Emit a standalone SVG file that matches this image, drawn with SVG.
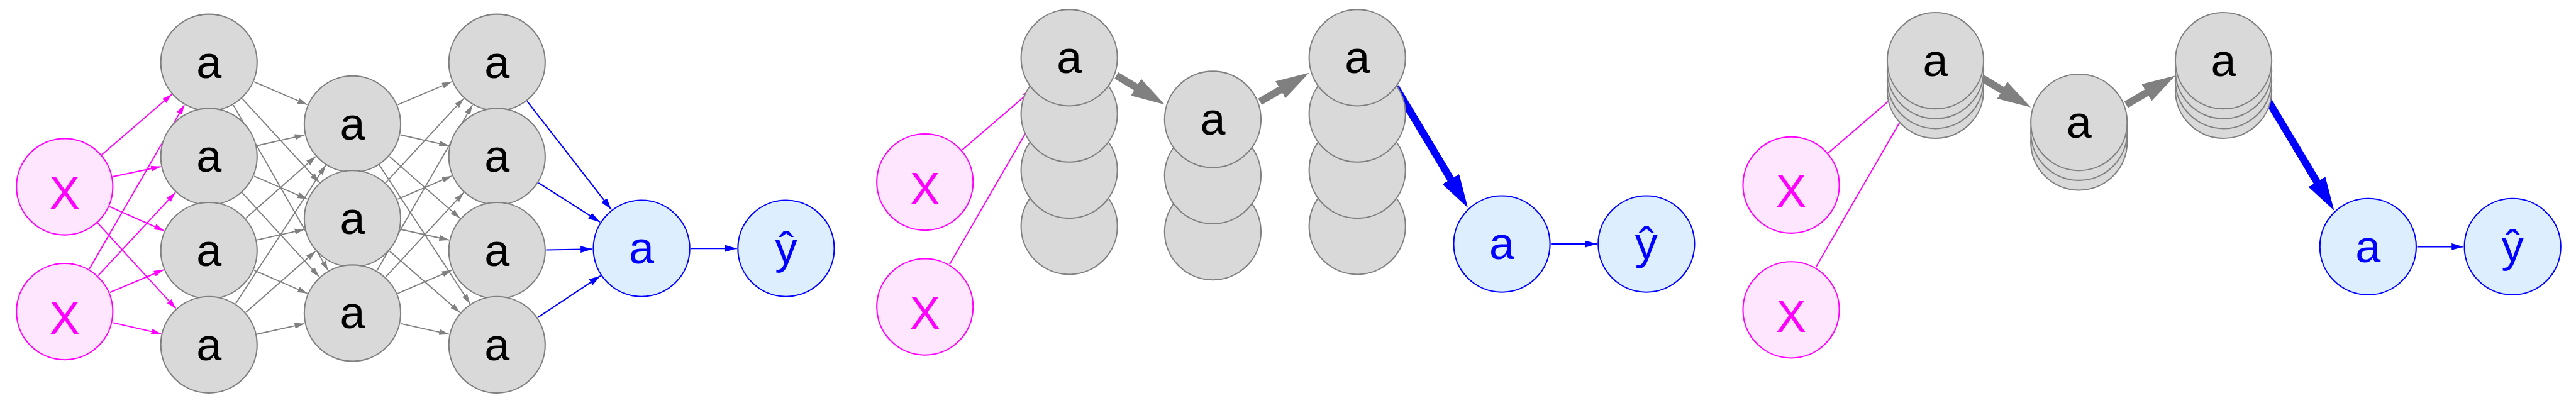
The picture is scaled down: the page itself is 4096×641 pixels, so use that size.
<svg xmlns="http://www.w3.org/2000/svg" width="4096" height="641" viewBox="0 0 4096 641">
<style>
.g circle{fill:#d9d9d9;stroke:#808080;stroke-width:2.7}
.m circle{fill:#ffe6ff;stroke:#ff00ff;stroke-width:2.7}
.b circle{fill:#ddeeff;stroke:#0000ff;stroke-width:2.7}
text{font-family:"Liberation Sans",Arial,sans-serif;font-size:92px;text-anchor:middle}
.g text{fill:#000000}
.m text{fill:#ff00ff}
.b text{fill:#0000ff}
.em{stroke:#ff00ff;stroke-width:2.5;fill:none;marker-end:url(#ahm)}
.eg{stroke:#808080;stroke-width:2.4;fill:none;marker-end:url(#ahg)}
.eb{stroke:#0000ff;stroke-width:2.7;fill:none;marker-end:url(#ahb)}
.tg{stroke:#808080;stroke-width:15;fill:none;marker-end:url(#ahtg)}
.tb{stroke:#0000ff;stroke-width:15;fill:none;marker-end:url(#ahtb)}
</style>
<defs>
<marker id="ahm" viewBox="0 0 20 12" refX="20" refY="6" markerWidth="20" markerHeight="12" markerUnits="userSpaceOnUse" orient="auto"><path d="M0,0 L20,6 L0,12 Z" fill="#ff00ff"/></marker>
<marker id="ahg" viewBox="0 0 20 12" refX="20" refY="6" markerWidth="20" markerHeight="12" markerUnits="userSpaceOnUse" orient="auto"><path d="M0,0 L20,6 L0,12 Z" fill="#808080"/></marker>
<marker id="ahb" viewBox="0 0 24 14" refX="24" refY="7" markerWidth="24" markerHeight="14" markerUnits="userSpaceOnUse" orient="auto"><path d="M0,0 L24,7 L0,14 Z" fill="#0000ff"/></marker>
<marker id="ahtg" viewBox="0 0 68 40" refX="1" refY="20" markerWidth="68" markerHeight="40" markerUnits="userSpaceOnUse" orient="auto"><path d="M0,0 L68,20 L0,40 Z" fill="#808080"/></marker>
<marker id="ahtb" viewBox="0 0 68 40" refX="1" refY="20" markerWidth="68" markerHeight="40" markerUnits="userSpaceOnUse" orient="auto"><path d="M0,0 L68,20 L0,40 Z" fill="#0000ff"/></marker>
</defs>
<g transform="scale(0.781679)">
<g id="connectors">
<path class="em" d="M207.2,314.7 L349.3,192.3"/>
<path class="em" d="M229.4,359.5 L327.1,339"/>
<path class="em" d="M222.9,420.5 L333.6,469.5"/>
<path class="em" d="M198.9,453.9 L357.6,627.6"/>
<path class="em" d="M181.6,547.5 L374.9,213.5"/>
<path class="em" d="M199.6,560.8 L356.9,391.7"/>
<path class="em" d="M223.6,595.1 L332.9,548.9"/>
<path class="em" d="M229,656.4 L327.6,679.1"/>
<path class="eg" d="M516.9,166.5 L625.1,213"/>
<path class="eg" d="M492.6,200.7 L649.4,371.3"/>
<path class="eg" d="M474.7,213.8 L667.3,550.2"/>
<path class="eg" d="M522.5,296.5 L619.5,274.5"/>
<path class="eg" d="M516.8,358.3 L625.2,405.2"/>
<path class="eg" d="M492.6,392.2 L649.4,563.3"/>
<path class="eg" d="M500,443.9 L642,318.6"/>
<path class="eg" d="M522.6,488.3 L619.4,466.7"/>
<path class="eg" d="M516.7,549.9 L625.3,597.1"/>
<path class="eg" d="M479.5,617.7 L662.5,336.3"/>
<path class="eg" d="M500.1,635.5 L641.9,511"/>
<path class="eg" d="M522.7,679.9 L619.3,658.6"/>
<path class="eg" d="M809,213.2 L919,166.3"/>
<path class="eg" d="M814.6,274.4 L913.4,296.6"/>
<path class="eg" d="M792.2,318.4 L935.8,444.1"/>
<path class="eg" d="M771.8,336.2 L956.2,617.8"/>
<path class="eg" d="M784.9,371.6 L943.1,200.4"/>
<path class="eg" d="M808.8,405.5 L919.2,358"/>
<path class="eg" d="M814.6,466.6 L913.4,488.4"/>
<path class="eg" d="M792.3,510.7 L935.7,635.8"/>
<path class="eg" d="M766.9,550.4 L961.1,213.6"/>
<path class="eg" d="M784.8,563.5 L943.2,392"/>
<path class="eg" d="M808.8,597.3 L919.2,549.7"/>
<path class="eg" d="M814.7,658.4 L913.3,680.1"/>
<path class="eb" d="M1072.3,206 L1243.7,426.5"/>
<path class="eb" d="M1095.4,372.2 L1220.6,451.8"/>
<path class="eb" d="M1111,508.5 L1205,507"/>
<path class="eb" d="M1094.2,646 L1221.8,561"/>
<path class="eb" d="M1405,505.5 L1499,505.5"/>
<path class="em" d="M1957.2,305.2 L2099.3,182.8"/>
<path class="em" d="M1931.6,538 L2124.9,204"/>
<path class="tg" d="M2271,153.5 L2311.7,178"/>
<path class="tg" d="M2563,207 L2605.4,182"/>
<path class="tb" d="M2838.8,177 L2951.5,365.4"/>
<path class="eb" d="M3155,496.5 L3249,496.5"/>
<path class="em" d="M3719.2,311.2 L3861.3,188.8"/>
<path class="em" d="M3693.6,544 L3886.9,210"/>
<path class="tg" d="M4033,159.5 L4073.7,184"/>
<path class="tg" d="M4325,213 L4367.4,188"/>
<path class="tb" d="M4600.8,183 L4713.5,370.9"/>
<path class="eb" d="M4917,502 L5011,502"/>
</g>
<g id="p1-x1" class="m"><circle cx="131.5" cy="380" r="98"/><text x="131.5" y="425">X</text></g>
<g id="p1-x2" class="m"><circle cx="131.5" cy="634" r="98"/><text x="131.5" y="679">X</text></g>
<g id="p1-l1-n1" class="g"><circle cx="425" cy="127" r="98"/><text x="425" y="158">a</text></g>
<g id="p1-l1-n2" class="g"><circle cx="425" cy="318.5" r="98"/><text x="425" y="349.5">a</text></g>
<g id="p1-l1-n3" class="g"><circle cx="425" cy="510" r="98"/><text x="425" y="541">a</text></g>
<g id="p1-l1-n4" class="g"><circle cx="425" cy="701.5" r="98"/><text x="425" y="732.5">a</text></g>
<g id="p1-l2-n1" class="g"><circle cx="717" cy="252.5" r="98"/><text x="717" y="283.5">a</text></g>
<g id="p1-l2-n2" class="g"><circle cx="717" cy="445" r="98"/><text x="717" y="476">a</text></g>
<g id="p1-l2-n3" class="g"><circle cx="717" cy="637" r="98"/><text x="717" y="668">a</text></g>
<g id="p1-l3-n1" class="g"><circle cx="1011" cy="127" r="98"/><text x="1011" y="158">a</text></g>
<g id="p1-l3-n2" class="g"><circle cx="1011" cy="318.5" r="98"/><text x="1011" y="349.5">a</text></g>
<g id="p1-l3-n3" class="g"><circle cx="1011" cy="510" r="98"/><text x="1011" y="541">a</text></g>
<g id="p1-l3-n4" class="g"><circle cx="1011" cy="701.5" r="98"/><text x="1011" y="732.5">a</text></g>
<g id="p1-out" class="b"><circle cx="1305" cy="505.5" r="98"/><text x="1305" y="536.5">a</text></g>
<g id="p1-yhat" class="b"><circle cx="1599" cy="505.5" r="98"/><text x="1599" y="535.5">ŷ</text></g>
<g id="p2-x1" class="m"><circle cx="1881.5" cy="370.5" r="98"/><text x="1881.5" y="415.5">X</text></g>
<g id="p2-x2" class="m"><circle cx="1881.5" cy="624.5" r="98"/><text x="1881.5" y="669.5">X</text></g>
<g id="p2-l1" class="g"><circle cx="2175" cy="460.4" r="98"/><circle cx="2175" cy="346.1" r="98"/><circle cx="2175" cy="231.8" r="98"/><circle cx="2175" cy="117.5" r="98"/><text x="2175" y="148.5">a</text></g>
<g id="p2-l2" class="g"><circle cx="2467" cy="471.6" r="98"/><circle cx="2467" cy="357.3" r="98"/><circle cx="2467" cy="243" r="98"/><text x="2467" y="274">a</text></g>
<g id="p2-l3" class="g"><circle cx="2761" cy="460.4" r="98"/><circle cx="2761" cy="346.1" r="98"/><circle cx="2761" cy="231.8" r="98"/><circle cx="2761" cy="117.5" r="98"/><text x="2761" y="148.5">a</text></g>
<g id="p2-out" class="b"><circle cx="3055" cy="496.5" r="98"/><text x="3055" y="527.5">a</text></g>
<g id="p2-yhat" class="b"><circle cx="3349" cy="496.5" r="98"/><text x="3349" y="526.5">ŷ</text></g>
<g id="p3-x1" class="m"><circle cx="3643.5" cy="376.5" r="98"/><text x="3643.5" y="421.5">X</text></g>
<g id="p3-x2" class="m"><circle cx="3643.5" cy="630.5" r="98"/><text x="3643.5" y="675.5">X</text></g>
<g id="p3-l1" class="g"><circle cx="3937" cy="183.5" r="98"/><circle cx="3937" cy="163.5" r="98"/><circle cx="3937" cy="143.5" r="98"/><circle cx="3937" cy="123.5" r="98"/><text x="3937" y="154.5">a</text></g>
<g id="p3-l2" class="g"><circle cx="4229" cy="289" r="98"/><circle cx="4229" cy="269" r="98"/><circle cx="4229" cy="249" r="98"/><text x="4229" y="280">a</text></g>
<g id="p3-l3" class="g"><circle cx="4523" cy="183.5" r="98"/><circle cx="4523" cy="163.5" r="98"/><circle cx="4523" cy="143.5" r="98"/><circle cx="4523" cy="123.5" r="98"/><text x="4523" y="154.5">a</text></g>
<g id="p3-out" class="b"><circle cx="4817" cy="502" r="98"/><text x="4817" y="533">a</text></g>
<g id="p3-yhat" class="b"><circle cx="5111" cy="502" r="98"/><text x="5111" y="532">ŷ</text></g>
</g>
</svg>
